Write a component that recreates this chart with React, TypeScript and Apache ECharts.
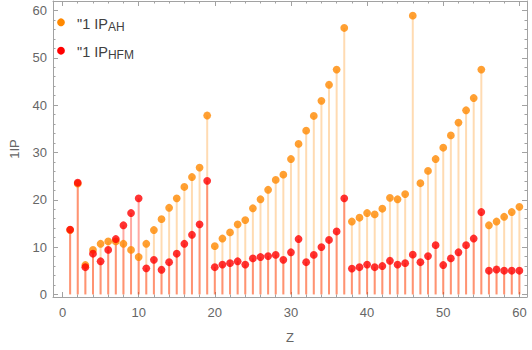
import React, { useEffect, useRef } from "react";
import * as echarts from "echarts";

const Z = Array.from({ length: 60 }, (_, i) => i + 1);

const ipAH = [
  13.6, 23.4, 6.2, 9.4, 10.7, 11.2, 11.2, 10.7, 9.4, 7.9,
  10.7, 13.6, 15.9, 18.3, 20.3, 22.7, 24.8, 26.8, 37.8, 10.2,
  11.8, 13.1, 14.8, 15.7, 18.2, 20.1, 22.1, 24.2, 25.3, 28.6,
  31.8, 34.6, 37.7, 40.9, 44.3, 47.5, 56.3, 15.4, 16.2, 17.2,
  16.9, 18.1, 20.4, 20.1, 21.2, 58.9, 23.5, 26.1, 28.6, 31.0,
  33.6, 36.3, 38.9, 41.5, 47.5, 14.6, 15.4, 16.4, 17.4, 18.5,
];

const ipHFM = [
  13.7, 23.6, 5.75, 8.6, 7.0, 9.4, 11.7, 14.6, 17.2, 20.3,
  5.5, 7.3, 5.2, 6.8, 8.6, 10.7, 12.6, 14.8, 24.0, 5.75,
  6.3, 6.6, 7.0, 6.3, 7.6, 7.9, 8.1, 8.35, 7.3, 8.9,
  11.7, 6.8, 8.35, 10.0, 11.5, 13.3, 20.3, 5.45, 5.75, 6.3,
  5.75, 6.0, 7.1, 6.3, 6.6, 8.4, 6.8, 8.1, 10.4, 6.2,
  7.6, 8.9, 10.4, 11.8, 17.4, 5.0, 5.25, 5.0, 5.0, 5.0,
];

const xMajor = [0, 10, 20, 30, 40, 50, 60];
const xMinor = Array.from({ length: 31 }, (_, i) => i * 2);
const yMajor = [0, 10, 20, 30, 40, 50, 60];
const yMinor = Array.from({ length: 32 }, (_, i) => i * 2);

const X_MIN = -1.25;
const X_MAX = 61;
const Y_MIN = -0.55;
const Y_MAX = 62;

const FONT = "'Liberation Sans', Arial, sans-serif";
const AXIS_COLOR = "#a2a2a2";
const LABEL_COLOR = "#666666";
const ORANGE = "#ff8800";
const RED = "#ff0000";

function makeX(position: string, major: boolean, withLabels: boolean) {
  return {
    type: "value",
    position,
    min: X_MIN,
    max: X_MAX,
    splitLine: { show: false },
    axisLine: { show: major, onZero: false, lineStyle: { color: AXIS_COLOR, width: 1 } },
    axisTick: {
      show: true,
      inside: true,
      length: major ? 5 : 2.5,
      customValues: major ? xMajor : xMinor,
      lineStyle: { color: AXIS_COLOR },
    },
    axisLabel: {
      show: withLabels,
      customValues: xMajor,
      margin: 9,
      color: LABEL_COLOR,
      fontSize: 13,
      fontFamily: FONT,
    },
    ...(withLabels
      ? {
          name: "Z",
          nameLocation: "middle",
          nameGap: 34,
          nameTextStyle: { color: LABEL_COLOR, fontSize: 13, fontFamily: FONT, verticalAlign: "top" },
        }
      : {}),
  };
}

function makeY(position: string, major: boolean, withLabels: boolean) {
  return {
    type: "value",
    position,
    min: Y_MIN,
    max: Y_MAX,
    splitLine: { show: false },
    axisLine: { show: major, onZero: false, lineStyle: { color: AXIS_COLOR, width: 1 } },
    axisTick: {
      show: true,
      inside: true,
      length: major ? 5 : 2.5,
      customValues: major ? yMajor : yMinor,
      lineStyle: { color: AXIS_COLOR },
    },
    axisLabel: {
      show: withLabels,
      customValues: yMajor,
      margin: 6,
      color: LABEL_COLOR,
      fontSize: 13,
      fontFamily: FONT,
    },
    ...(withLabels
      ? {
          name: "1IP",
          nameLocation: "middle",
          nameGap: 32,
          nameTextStyle: { color: LABEL_COLOR, fontSize: 13, fontFamily: FONT },
        }
      : {}),
  };
}

export default function App() {
  const ref = useRef<HTMLDivElement>(null);

  useEffect(() => {
    if (!ref.current) return;
    const chart = echarts.init(ref.current, null, { renderer: "svg" });
    const ahData = Z.map((z, i) => [z, ipAH[i]]);
    const hfmData = Z.map((z, i) => [z, ipHFM[i]]);

    chart.setOption({
      animation: false,
      backgroundColor: "#ffffff",
      grid: { left: 48, right: 5, top: 1, bottom: 53, containLabel: false },
      xAxis: [
        makeX("bottom", true, true),
        makeX("bottom", false, false),
        makeX("top", true, false),
        makeX("top", false, false),
      ],
      yAxis: [
        makeY("left", true, true),
        makeY("left", false, false),
        makeY("right", true, false),
        makeY("right", false, false),
      ],
      graphic: [
        {
          type: "circle",
          shape: { cx: 61, cy: 22.3, r: 3.9 },
          style: { fill: ORANGE },
          z: 100,
        },
        {
          type: "text",
          x: 77,
          y: 24,
          z: 100,
          style: {
            text: '"1 IP{s|AH}',
            fontSize: 14.5,
            fontFamily: FONT,
            fill: "#404040",
            verticalAlign: "middle",
            lineHeight: 17,
            rich: {
              s: { fontSize: 12, fontFamily: FONT, fill: "#404040", verticalAlign: "bottom", lineHeight: 17 },
            },
          },
        },
        {
          type: "circle",
          shape: { cx: 61, cy: 50.7, r: 3.9 },
          style: { fill: RED },
          z: 100,
        },
        {
          type: "text",
          x: 77,
          y: 52,
          z: 100,
          style: {
            text: '"1 IP{s|HFM}',
            fontSize: 14.5,
            fontFamily: FONT,
            fill: "#404040",
            verticalAlign: "middle",
            lineHeight: 17,
            rich: {
              s: { fontSize: 12, fontFamily: FONT, fill: "#404040", verticalAlign: "bottom", lineHeight: 17 },
            },
          },
        },
      ],
      series: [
        {
          name: "AH stems",
          type: "bar",
          xAxisIndex: 0,
          yAxisIndex: 0,
          data: ahData,
          barWidth: 2,
          barGap: "-100%",
          itemStyle: { color: "rgba(255,136,0,0.3)" },
          silent: true,
          z: 1,
        },
        {
          name: "HFM stems",
          type: "bar",
          xAxisIndex: 0,
          yAxisIndex: 0,
          data: hfmData,
          barWidth: 2,
          barGap: "-100%",
          itemStyle: { color: "rgba(255,30,10,0.38)" },
          silent: true,
          z: 2,
        },
        {
          name: "IP_AH",
          type: "scatter",
          xAxisIndex: 0,
          yAxisIndex: 0,
          data: ahData,
          symbol: "circle",
          symbolSize: 7.8,
          itemStyle: { color: ORANGE },
          z: 3,
        },
        {
          name: "IP_HFM",
          type: "scatter",
          xAxisIndex: 0,
          yAxisIndex: 0,
          data: hfmData,
          symbol: "circle",
          symbolSize: 7.8,
          itemStyle: { color: RED },
          z: 4,
        },
      ],
    });
    return () => chart.dispose();
  }, []);

  return (
    <div
      ref={ref}
      style={{ position: "fixed", left: 0, top: 0, width: 532, height: 350, background: "#fff" }}
    />
  );
}
